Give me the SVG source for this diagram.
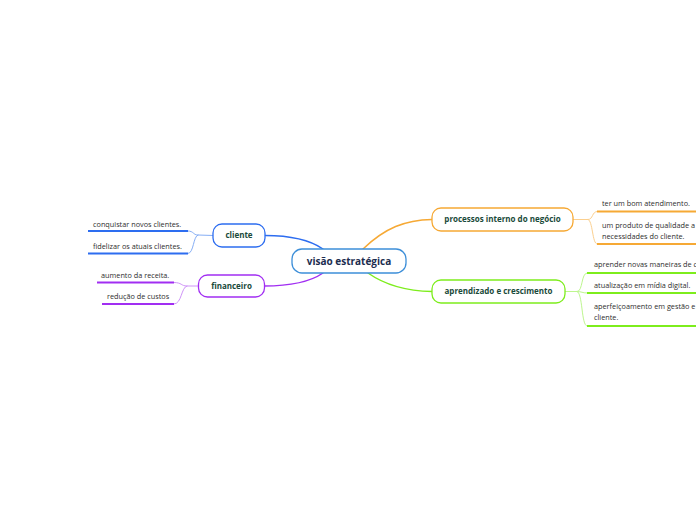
<svg xmlns="http://www.w3.org/2000/svg" width="696" height="520" viewBox="0 0 696 520">
<style>
.bg{fill:#ffffff}
.node{fill:#ffffff;stroke-width:1.3}
.main{font-family:"Open Sans","Liberation Sans",sans-serif;font-weight:bold;font-size:10px;fill:#1c2d4f;text-anchor:middle}
.sub{font-family:"Open Sans","Liberation Sans",sans-serif;font-weight:bold;font-size:8px;fill:#1a4a3a;text-anchor:middle}
.leaf{font-family:"Open Sans","Liberation Sans",sans-serif;font-size:7.3px;fill:#2e2e2e}
.c{fill:none;stroke-linecap:round}
.ul{fill:none;stroke-width:2}
.blue{stroke:#2d6df0}.lblue{stroke:#86aef5}
.purple{stroke:#a12ef2}.lpurple{stroke:#cf94f8}
.orange{stroke:#f6a935}.lorange{stroke:#fbcf8e}
.green{stroke:#7ded1c}.lgreen{stroke:#bdf68e}
</style>
<rect class="bg" x="0" y="0" width="696" height="520"/>
<g id="connectors">
  <path class="c blue" stroke-width="1.5" d="M323,249 C310,240 292,235.5 265,235.5"/>
  <path class="c purple" stroke-width="1.5" d="M323,273 C310,282 292,286 264,286"/>
  <path class="c orange" stroke-width="1.5" d="M363,249 C385,228 405,220 432,219.5"/>
  <path class="c green" stroke-width="1.5" d="M368,273 C385,285 405,291 432,291.5"/>
  <path class="c lblue" stroke-width="1" d="M213,235.5 L198,235 C193,235 194,231 188,231 M198,235 C193,236 194,253.5 188,253.5"/>
  <path class="c lpurple" stroke-width="1" d="M198,286 L187,286 C181,286 182,282.5 174,282.5 M187,286 C181,287 182,304 174,304"/>
  <path class="c lorange" stroke-width="1" d="M573,219.5 L588,219.5 C593,219.5 592,211.5 597,211.5 M588,219.5 C593,220 592,244 597,244"/>
  <path class="c lgreen" stroke-width="1" d="M565,291.5 L577,291.5 C583,291.5 581,273 587,273 M577,291.5 C582,291.5 582,293 587,293 M577,291.5 C583,292 581,326 587,326"/>
</g>
<g id="central">
  <rect class="node" x="292" y="249" width="114" height="24" rx="10" stroke="#3d8fd9"/>
  <text class="main" x="349" y="264.5">visão estratégica</text>
</g>
<g id="cliente">
  <rect class="node blue" x="213" y="224" width="52" height="23" rx="9"/>
  <text class="sub" x="239" y="238.3">cliente</text>
</g>
<g id="financeiro">
  <rect class="node purple" x="198.5" y="275" width="66" height="22" rx="9"/>
  <text class="sub" x="231.5" y="288.8">financeiro</text>
</g>
<g id="processos">
  <rect class="node orange" x="432" y="208" width="141" height="23" rx="9"/>
  <text class="sub" x="502.5" y="222.3">processos interno do negócio</text>
</g>
<g id="aprendizado">
  <rect class="node green" x="432" y="280" width="133" height="23" rx="9"/>
  <text class="sub" x="498.5" y="294.3">aprendizado e crescimento</text>
</g>
<g id="leaf-conquistar">
  <text class="leaf" x="93" y="227">conquistar novos clientes.</text>
  <path class="ul blue" d="M88,231 H188"/>
</g>
<g id="leaf-fidelizar">
  <text class="leaf" x="93" y="249">fidelizar os atuais clientes.</text>
  <path class="ul blue" d="M88,253.5 H188"/>
</g>
<g id="leaf-aumento">
  <text class="leaf" x="101" y="278">aumento da receita.</text>
  <path class="ul purple" d="M97,282.5 H174"/>
</g>
<g id="leaf-reducao">
  <text class="leaf" x="107" y="299">redução de custos</text>
  <path class="ul purple" d="M102,304 H174"/>
</g>
<g id="leaf-atendimento">
  <text class="leaf" x="602" y="206">ter um bom atendimento.</text>
  <path class="ul orange" d="M597,211.5 H696"/>
</g>
<g id="leaf-produto">
  <text class="leaf" x="602" y="228">um produto de qualidade a</text>
  <text class="leaf" x="602" y="238.5">necessidades do cliente.</text>
  <path class="ul orange" d="M597,244 H696"/>
</g>
<g id="leaf-aprender">
  <text class="leaf" x="594" y="267">aprender novas maneiras de c</text>
  <path class="ul green" d="M587,273 H696"/>
</g>
<g id="leaf-atualizacao">
  <text class="leaf" x="594" y="287.5">atualização em mídia digital.</text>
  <path class="ul green" d="M587,293 H696"/>
</g>
<g id="leaf-aperfeicoamento">
  <text class="leaf" x="594" y="309">aperfeiçoamento em gestão e</text>
  <text class="leaf" x="594" y="319.5">cliente.</text>
  <path class="ul green" d="M587,326 H696"/>
</g>
</svg>
